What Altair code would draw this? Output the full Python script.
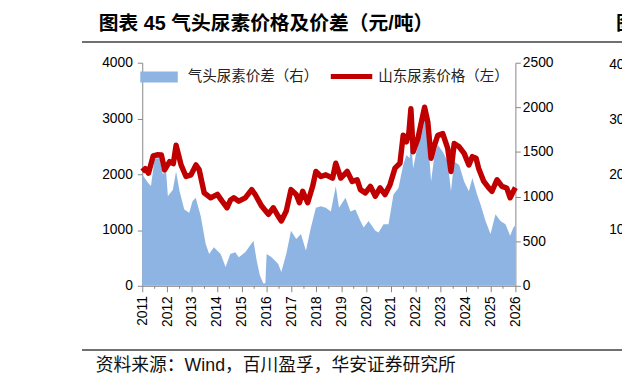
import altair as alt
import pandas as pd

# ---------------- data ----------------
price_t = [2011.00, 2011.12, 2011.25, 2011.44, 2011.60, 2011.77, 2011.90, 2012.10, 2012.25, 2012.36,
           2012.56, 2012.76, 2012.96, 2013.16, 2013.29, 2013.49, 2013.75, 2014.02, 2014.21, 2014.41,
           2014.55, 2014.68, 2014.88, 2015.14, 2015.40, 2015.54, 2015.80, 2016.07, 2016.27, 2016.46,
           2016.59, 2016.79, 2016.98, 2017.19, 2017.32, 2017.45, 2017.65, 2017.85, 2017.98, 2018.18,
           2018.38, 2018.65, 2018.78, 2018.98, 2019.24, 2019.44, 2019.64, 2019.77, 2019.97, 2020.17,
           2020.37, 2020.56, 2020.76, 2020.96, 2021.16, 2021.36, 2021.49, 2021.62, 2021.72, 2021.80,
           2021.89, 2022.08, 2022.28, 2022.35, 2022.48, 2022.61, 2022.75, 2022.88, 2023.08, 2023.28,
           2023.41, 2023.54, 2023.74, 2023.94, 2024.13, 2024.27, 2024.42, 2024.52, 2024.73, 2024.93,
           2025.06, 2025.26, 2025.46, 2025.65, 2025.79, 2025.92, 2026.00]
price_v = [2050, 2100, 2020, 2330, 2350, 2345, 2080, 2227, 2190, 2520,
           2168, 1960, 1990, 2168, 2080, 1667, 1578, 1640, 1518, 1400,
           1540, 1578, 1518, 1578, 1725, 1637, 1430, 1282, 1400, 1252,
           1163, 1341, 1725, 1637, 1489, 1695, 1489, 1784, 2050, 1961,
           1990, 1931, 2198, 1932, 2050, 1872, 1902, 1725, 1666, 1784,
           1607, 1755, 1637, 1814, 2110, 2198, 2700, 2582, 2750, 3174,
           2404, 2641, 3055, 3202, 2936, 2287, 2523, 2700, 2730, 2464,
           2050, 2553, 2493, 2375, 2168, 2316, 2287, 2110, 1872, 1755,
           1695, 1902, 1784, 1755, 1578, 1695, 1760]

spread_t = [2011.00, 2011.12, 2011.24, 2011.35, 2011.50, 2011.70, 2011.83, 2011.95, 2012.03, 2012.23,
            2012.36, 2012.50, 2012.69, 2012.89, 2013.02, 2013.15, 2013.35, 2013.55, 2013.69, 2013.88,
            2014.15, 2014.35, 2014.54, 2014.74, 2014.88, 2015.14, 2015.47, 2015.60, 2015.73, 2015.87,
            2015.95, 2016.00, 2016.20, 2016.46, 2016.59, 2016.79, 2016.98, 2017.19, 2017.38, 2017.58,
            2017.78, 2017.98, 2018.18, 2018.38, 2018.58, 2018.78, 2018.91, 2019.17, 2019.37, 2019.57,
            2019.77, 2019.90, 2020.10, 2020.37, 2020.50, 2020.70, 2020.90, 2021.10, 2021.30, 2021.49,
            2021.62, 2021.75, 2021.80, 2021.89, 2022.02, 2022.15, 2022.28, 2022.35, 2022.48, 2022.61,
            2022.75, 2022.88, 2023.08, 2023.28, 2023.41, 2023.54, 2023.74, 2023.94, 2024.13, 2024.27,
            2024.46, 2024.60, 2024.80, 2025.00, 2025.20, 2025.40, 2025.60, 2025.79, 2025.92, 2026.00]
spread_v = [1244, 1200, 1152, 1120, 1429, 1429, 1244, 1318, 1004, 1078,
            1281, 1059, 856, 820, 948, 986, 782, 469, 358, 432,
            358, 210, 358, 375, 321, 375, 505, 284, 117, 25,
            30, 358, 321, 247, 155, 358, 616, 524, 580, 394,
            654, 875, 893, 875, 834, 1115, 875, 986, 834, 856,
            727, 654, 727, 616, 598, 690, 690, 1023, 1097, 1355,
            1466, 1429, 1650, 1318, 1502, 1651, 1762, 1873, 1688, 1170,
            1466, 1577, 1502, 1392, 1059, 1392, 1355, 1170, 1059, 1208,
            1023, 912, 727, 580, 801, 727, 690, 561, 654, 680]

year_ticks = list(range(2011, 2027))
minor_ticks = [y + 0.5 for y in range(2011, 2026)]
left_ticks = [0, 1000, 2000, 3000, 4000]
right_ticks = [0, 500, 1000, 1500, 2000, 2500]

title_text = "图表 45 气头尿素价格及价差（元/吨）"
legend_spread = "气头尿素价差（右）"
legend_price = "山东尿素价格（左）"
source_text = "资料来源：Wind，百川盈孚，华安证券研究所"
next_title = "图表"
next_labels = ["4000", "3000", "2000", "1000"]

# ---------------- styling ----------------
BLUE = "#8DB4E2"
RED = "#C00000"
AXIS_GRAY = "#868686"
LATIN = "Liberation Sans"
MIXED = "'Liberation Sans', 'Noto Sans CJK SC'"
CJK = "Noto Sans CJK SC"
W, H = 378, 226

spread_df = pd.DataFrame({"t": spread_t, "v": spread_v})
price_df = pd.DataFrame({"t": price_t, "p": price_v})
minor_df = pd.DataFrame({"t": minor_ticks})
dummy = pd.DataFrame({"d": [0]})

x_enc = alt.X(
    "t:Q",
    scale=alt.Scale(domain=[2011, 2026], nice=False, zero=False),
    axis=alt.Axis(values=year_ticks, format="d", labelAngle=-90, title=None, grid=False,
                  tickSize=6, labelFontSize=14, labelFont=LATIN, labelColor="#000",
                  domainColor=AXIS_GRAY, tickColor=AXIS_GRAY, labelPadding=4,
                  labelFlush=False, labelOverlap=False),
)

area = alt.Chart(spread_df).mark_area(color=BLUE, opacity=1).encode(
    x=x_enc,
    y=alt.Y("v:Q", scale=alt.Scale(domain=[0, 2500], nice=False),
            axis=alt.Axis(orient="right", values=right_ticks, format="d", title=None, grid=False,
                          tickSize=5, labelPadding=2, labelFontSize=14, labelFont=LATIN,
                          labelColor="#000", domainColor=AXIS_GRAY, tickColor=AXIS_GRAY)),
)

line = alt.Chart(price_df).mark_line(color=RED, strokeWidth=5.5, strokeJoin="round").encode(
    x=x_enc,
    y=alt.Y("p:Q", scale=alt.Scale(domain=[0, 4000], nice=False),
            axis=alt.Axis(orient="left", values=left_ticks, format="d", title=None, grid=False,
                          tickSize=5, labelPadding=5, labelFontSize=14, labelFont=LATIN,
                          labelColor="#000", domainColor=AXIS_GRAY, tickColor=AXIS_GRAY)),
)

minor = alt.Chart(minor_df).mark_rule(color=AXIS_GRAY, strokeWidth=1).encode(
    x=x_enc, y=alt.value(H), y2=alt.value(H + 3)
)


def txt(s, x, y, size, font=MIXED, bold=False, color="#000", align="left"):
    return alt.Chart(dummy).mark_text(
        text=s, align=align, baseline="middle", fontSize=size, font=font,
        fontWeight="bold" if bold else "normal", color=color,
    ).encode(x=alt.value(x), y=alt.value(y))


leg_rect = alt.Chart(dummy).mark_rect(color=BLUE).encode(
    x=alt.value(-2), x2=alt.value(36), y=alt.value(9), y2=alt.value(20)
)
leg_line = alt.Chart(dummy).mark_rule(color=RED, strokeWidth=5).encode(
    x=alt.value(191), x2=alt.value(233), y=alt.value(14)
)
top_rule = alt.Chart(dummy).mark_rule(color="#404040", strokeWidth=1.5).encode(
    x=alt.value(-61), x2=alt.value(490), y=alt.value(-21)
)
bottom_rule = alt.Chart(dummy).mark_rule(color="#404040", strokeWidth=1.5).encode(
    x=alt.value(-61), x2=alt.value(490), y=alt.value(291)
)

layers = [
    area, line, minor, leg_rect, leg_line, top_rule, bottom_rule,
    txt(legend_spread, 46, 15, 14.7, font=CJK, color="#222"),
    txt(legend_price, 239, 15, 14.7, font=CJK, color="#222"),
    txt(title_text, -44, -39, 20, bold=True),
    txt(source_text, -47, 307, 18, color="#111"),
    txt(next_title, 480, -39, 20, bold=True),
]
for i, lab in enumerate(next_labels):
    layers.append(txt(lab, 473, 2 + 56 * i, 14, font=LATIN, color="#000"))

chart = alt.layer(*layers).resolve_scale(y="independent").properties(
    width=W, height=H, autosize="none",
    padding={"left": 136, "top": 53, "right": 108, "bottom": 97},
    background="white",
).configure_view(stroke=None)

chart.save("out.html", embed_options={"renderer": "svg", "actions": False})
